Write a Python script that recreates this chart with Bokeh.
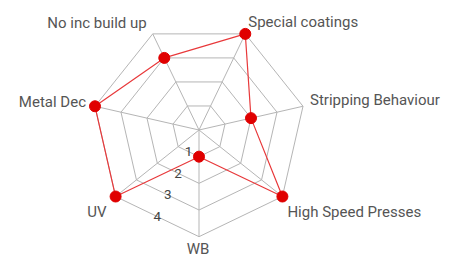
import math
from bokeh.plotting import figure
from bokeh.models import Range1d, ColumnDataSource
from bokeh.core.properties import value
from bokeh.embed import file_html
from bokeh.resources import INLINE

categories = ["WB", "UV", "Metal Dec", "No inc build up", "Special coatings",
              "Stripping Behaviour", "High Speed Presses"]
values = [1, 4, 4, 3, 4, 2, 4]
tick_values = [1, 2, 3, 4]
tick_labels = ["1", "2", "3", "4"]

# label styling (pixel offsets from each axis tip, alignment)
label_align = ["center", "right", "right", "right", "left", "left", "left"]
label_xoff = [-1, -9, -9, -6, 3, 7, 5]
label_yoff = [12, 15, -4, -11, -12, -6, 15]

K = 26.67  # pixels per unit
CX, CY = 198.5, 129.5
W, H = 459, 257

p = figure(width=W, height=H, output_backend="svg", toolbar_location=None,
           min_border=0, outline_line_color=None)
p.x_range = Range1d(-CX / K, (W - CX) / K)
p.y_range = Range1d(-(H - CY) / K, CY / K)
p.xaxis.visible = False
p.yaxis.visible = False
p.grid.visible = False
p.background_fill_color = "white"
p.border_fill_color = "white"

n = len(categories)
angles = [math.pi + i * 2 * math.pi / n for i in range(n)]
rmax = max(tick_values)

grid_col = "#b5b5b5"
# rings
for t in tick_values:
    xs = [math.sin(a) * t for a in angles] + [math.sin(angles[0]) * t]
    ys = [math.cos(a) * t for a in angles] + [math.cos(angles[0]) * t]
    p.line(xs, ys, line_color=grid_col, line_width=1)
# spokes
p.segment(x0=[0] * n, y0=[0] * n,
          x1=[math.sin(a) * rmax for a in angles],
          y1=[math.cos(a) * rmax for a in angles],
          line_color=grid_col, line_width=1)

# tick labels at midpoint of edge between first two axes
tx, ty = [], []
for t in tick_values:
    x0, y0 = math.sin(angles[0]) * t, math.cos(angles[0]) * t
    x1, y1 = math.sin(angles[1]) * t, math.cos(angles[1]) * t
    tx.append((x0 + x1) / 2)
    ty.append((y0 + y1) / 2)
p.text(x=tx, y=ty, text=tick_labels, text_align="center", text_baseline="middle",
       text_font=value("Roboto"), text_font_size="13.5px", text_color="#444444")

# data series
dx = [math.sin(a) * v for a, v in zip(angles, values)]
dy = [math.cos(a) * v for a, v in zip(angles, values)]
p.line(dx + [dx[0]], dy + [dy[0]], line_color="#e8393b", line_width=1.2)
p.scatter(dx, dy, size=11, fill_color="#e00000", line_color="#e00000")

# category labels
lx = [math.sin(a) * rmax for a in angles]
ly = [math.cos(a) * rmax for a in angles]
src = ColumnDataSource(dict(x=lx, y=ly, text=categories, align=label_align,
                            xo=label_xoff, yo=label_yoff))
p.text(x="x", y="y", text="text", source=src, text_align="align",
       x_offset="xo", y_offset="yo", text_baseline="alphabetic",
       text_font=value("Roboto"), text_font_size="15px", text_color="#555555")

open("out.html", "w").write(file_html(p, INLINE))
